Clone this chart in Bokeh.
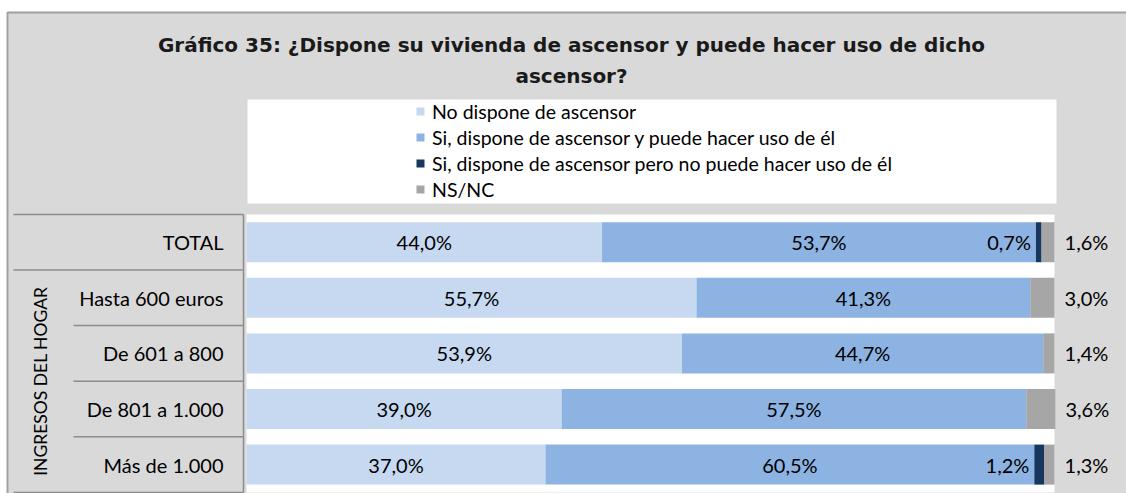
import math
from bokeh.plotting import figure
from bokeh.models import Range1d, Legend, LegendItem, ColumnDataSource
from bokeh.embed import file_html
from bokeh.resources import INLINE
from bokeh.core.properties import value

# ---------------- data ----------------
categories = ["TOTAL", "Hasta 600 euros", "De 601 a 800", "De 801 a 1.000", "Más de 1.000"]
group_label = "INGRESOS DEL HOGAR"
group_members = ["Hasta 600 euros", "De 601 a 800", "De 801 a 1.000", "Más de 1.000"]
series_names = [
    "No dispone de ascensor",
    "Si, dispone de ascensor y puede hacer uso de él",
    "Si, dispone de ascensor pero no puede hacer uso de él",
    "NS/NC",
]
no_dispone = [44.0, 55.7, 53.9, 39.0, 37.0]
si_puede = [53.7, 41.3, 44.7, 57.5, 60.5]
si_no_puede = [0.7, 0.0, 0.0, 0.0, 1.2]
ns_nc = [1.6, 3.0, 1.4, 3.6, 1.3]
colors = ["#c6d9f1", "#8db3e2", "#17375e", "#a6a6a6"]
title_lines = [
    "Gráfico 35: ¿Dispone su vivienda de ascensor y puede hacer uso de dicho",
    "ascensor?",
]

# ---------------- layout helpers (page px -> data) ----------------
W, H = 1126, 493
X0, SX = 246.0, 8.08      # page x of 0 %, px per %
Y0, SY = 241.7, 55.6      # page y of first category, px per category


def dx(px):
    return (px - X0) / SX


def dy(py):
    return (py - Y0) / SY


FONT = value("Lato")
FS = "20px"

p = figure(width=W, height=H, output_backend="svg", toolbar_location=None,
           x_range=Range1d(dx(0), dx(W)), y_range=Range1d(dy(H), dy(0)),
           x_axis_location=None, y_axis_location=None, min_border=0)
p.grid.visible = False
p.outline_line_color = None
p.background_fill_color = "white"
p.border_fill_color = "white"

# chart area box
p.quad(left=dx(7), right=dx(1140), top=dy(12), bottom=dy(700),
       fill_color="#d9d9d9", line_color="#a0a0a0", line_width=2)

# title
p.text(x=[dx(571)] * 2, y=[dy(44), dy(75)], text=title_lines,
       text_font=value("DejaVu Sans"), text_font_style="bold", text_font_size="20px",
       text_align="center", text_baseline="middle", text_color="#1a1a1a")

# legend box
p.quad(left=dx(247), right=dx(1056), top=dy(99), bottom=dy(203),
       fill_color="white", line_color=None)

# plot area
n = len(categories)
p.quad(left=0, right=100, top=-0.5, bottom=n - 0.5, fill_color="white", line_color=None)

ys = list(range(n))
src = ColumnDataSource(dict(y=ys, s0=no_dispone, s1=si_puede, s2=si_no_puede, s3=ns_nc))
keys = ["s0", "s1", "s2", "s3"]
rends = p.hbar_stack(keys, y="y", height=0.72, color=colors, line_color=None, source=src)

# value labels
def fmt(v):
    return f"{v:.1f}".replace(".", ",") + "%"

c0 = [a / 2 for a in no_dispone]
c1 = [a + b / 2 for a, b in zip(no_dispone, si_puede)]
p.text(x=c0, y=ys, text=[fmt(v) for v in no_dispone], text_font=FONT, text_font_size=FS,
       text_align="center", text_baseline="middle", text_color="black")
p.text(x=c1, y=ys, text=[fmt(v) for v in si_puede], text_font=FONT, text_font_size=FS,
       text_align="center", text_baseline="middle", text_color="black")
s2x = [a + b for a, b, c in zip(no_dispone, si_puede, si_no_puede) if c > 0]
s2y = [i for i, c in enumerate(si_no_puede) if c > 0]
s2t = [fmt(c) for c in si_no_puede if c > 0]
p.text(x=s2x, y=s2y, text=s2t, text_font=FONT, text_font_size=FS, x_offset=-5,
       text_align="right", text_baseline="middle", text_color="black")
tot = [a + b + c + d for a, b, c, d in zip(no_dispone, si_puede, si_no_puede, ns_nc)]
p.text(x=tot, y=ys, text=[fmt(v) for v in ns_nc], text_font=FONT, text_font_size=FS,
       x_offset=32, text_align="center", text_baseline="middle", text_color="black")

# category axis (table style)
p.text(x=[dx(223)] * n, y=ys, text=categories, text_font=FONT, text_font_size=FS,
       text_align="right", text_baseline="middle", text_color="black")
gidx = [categories.index(c) for c in group_members]
gy = sum(gidx) / len(gidx)
p.text(x=[dx(40)], y=[gy], text=[group_label], angle=math.pi / 2, text_font=FONT,
       text_font_size="17.5px", text_align="center", text_baseline="middle", text_color="black")

line_col = "#8c8c8c"
bounds = [i - 0.5 for i in range(n + 1)]
full = [bounds[0], bounds[1], bounds[-1]]
inner = [b for b in bounds[2:-1]]
p.segment(x0=[dx(13)] * len(full), x1=[dx(243)] * len(full), y0=full, y1=full,
          line_color=line_col, line_width=1.5)
p.segment(x0=[dx(73)] * len(inner), x1=[dx(243)] * len(inner), y0=inner, y1=inner,
          line_color=line_col, line_width=1.5)
p.segment(x0=[dx(243)], x1=[dx(243)], y0=[bounds[0]], y1=[bounds[-1]],
          line_color=line_col, line_width=1.5)

legend = Legend(items=[LegendItem(label=nm, renderers=[r]) for nm, r in zip(series_names, rends)],
                location=(415, 291), glyph_width=10, glyph_height=10, label_standoff=7,
                spacing=0, label_height=26, padding=0, margin=0,
                border_line_alpha=0, background_fill_alpha=0,
                label_text_font="Lato", label_text_font_size="19.5px", label_text_color="black")
p.add_layout(legend)

open("out.html", "w").write(file_html(p, INLINE))
